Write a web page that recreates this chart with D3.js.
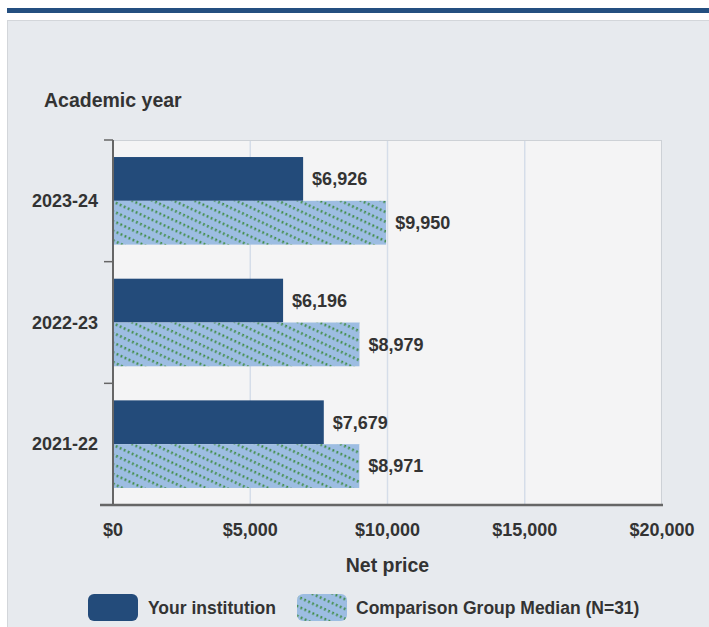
<!DOCTYPE html>
<html>
<head>
<meta charset="utf-8">
<script src="https://cdn.jsdelivr.net/npm/d3@7"></script>
<style>
  body { margin: 0; background: #fff; }
  text { font-family: "Liberation Sans", Arial, sans-serif; font-weight: bold; fill: #333; }
</style>
</head>
<body>
<div id="chart"></div>
<script>
// data
var years = ["2023-24", "2022-23", "2021-22"];
var yourInstitution = [6926, 6196, 7679];
var comparisonMedian = [9950, 8979, 8971];
var xTicks = [0, 5000, 10000, 15000, 20000];
var seriesNames = ["Your institution", "Comparison Group Median (N=31)"];

var w = 709, h = 627;
var plot = {left: 113, right: 662, top: 140, bottom: 505};
var darkBlue = "#234b7a";
var lightBlue = "#9dbde2";

var svg = d3.select("#chart").append("svg")
  .attr("width", w)
  .attr("height", h);

var defs = svg.append("defs");
var pat = defs.append("pattern")
  .attr("id", "hatch")
  .attr("patternUnits", "userSpaceOnUse")
  .attr("width", 4.4)
  .attr("height", 8.8)
  .attr("patternTransform", "rotate(25)");
pat.append("rect").attr("width", 4.4).attr("height", 8.8).attr("fill", lightBlue);
pat.append("rect").attr("x", 1.2).attr("y", 0).attr("width", 1.7).attr("height", 2.6).attr("fill", "#3f8c45");

// top rule + panel
svg.append("rect").attr("x", 7).attr("y", 8).attr("width", w - 7).attr("height", 5).attr("fill", "#244f80");
svg.append("rect").attr("x", 7.5).attr("y", 20.5).attr("width", w).attr("height", h)
  .attr("fill", "#e7eaee").attr("stroke", "#d3d6da");

var x = d3.scaleLinear().domain([0, 20000]).range([plot.left, plot.right]);
var y = d3.scaleBand().domain(years).range([plot.top, plot.bottom]).paddingInner(0.28).paddingOuter(0.14);
var sub = d3.scaleBand().domain(["you", "comp"]).range([0, y.bandwidth()]);

// plot area
svg.append("rect")
  .attr("x", plot.left).attr("y", plot.top + 0.5)
  .attr("width", plot.right - plot.left - 0.5).attr("height", plot.bottom - plot.top)
  .attr("fill", "#f4f4f5").attr("stroke", "#cdd1d6");

// gridlines
svg.append("g").selectAll("line")
  .data(xTicks.slice(1, -1))
  .enter().append("line")
  .attr("x1", function(d){ return x(d); })
  .attr("x2", function(d){ return x(d); })
  .attr("y1", plot.top + 1).attr("y2", plot.bottom)
  .attr("stroke", "#d5dde9").attr("stroke-width", 1.5);

// bars
var groups = svg.append("g").selectAll("g")
  .data(years)
  .enter().append("g")
  .attr("transform", function(d){ return "translate(0," + y(d) + ")"; });

groups.append("rect")
  .attr("x", x(0))
  .attr("y", sub("you"))
  .attr("height", sub.bandwidth())
  .attr("width", function(d, i){ return x(yourInstitution[i]) - x(0); })
  .attr("fill", darkBlue);

groups.append("rect")
  .attr("x", x(0))
  .attr("y", sub("comp"))
  .attr("height", sub.bandwidth())
  .attr("width", function(d, i){ return x(comparisonMedian[i]) - x(0); })
  .attr("fill", "url(#hatch)");

var fmt = d3.format("$,");
groups.append("text")
  .attr("x", function(d, i){ return x(yourInstitution[i]) + 9; })
  .attr("y", sub("you") + sub.bandwidth() / 2)
  .attr("dy", "0.35em")
  .style("font-size", "18px")
  .text(function(d, i){ return fmt(yourInstitution[i]); });

groups.append("text")
  .attr("x", function(d, i){ return x(comparisonMedian[i]) + 9; })
  .attr("y", sub("comp") + sub.bandwidth() / 2)
  .attr("dy", "0.35em")
  .style("font-size", "18px")
  .text(function(d, i){ return fmt(comparisonMedian[i]); });

// y axis
var yAxis = svg.append("g")
  .attr("transform", "translate(" + plot.left + ",0)");
yAxis.append("line")
  .attr("x1", 0).attr("x2", 0).attr("y1", plot.top).attr("y2", plot.bottom)
  .attr("stroke", "#666").attr("stroke-width", 2);
var yTickPos = [plot.top].concat(years.map(function(d){ return y(d) + y.bandwidth() + y.step() * y.paddingInner() / 2; }));
yTickPos[yTickPos.length - 1] = plot.bottom;
yAxis.selectAll(".tk").data(yTickPos).enter().append("line")
  .attr("x1", -9).attr("x2", 0)
  .attr("y1", function(d){ return d; }).attr("y2", function(d){ return d; })
  .attr("stroke", "#666").attr("stroke-width", 1.5);
yAxis.selectAll(".lbl").data(years).enter().append("text")
  .attr("x", -15)
  .attr("y", function(d){ return y(d) + y.bandwidth() / 2; })
  .attr("dy", "0.35em")
  .attr("text-anchor", "end")
  .style("font-size", "18px")
  .text(function(d){ return d; });

// x axis
var xAxis = svg.append("g");
xAxis.append("line")
  .attr("x1", 100).attr("x2", plot.right + 1).attr("y1", plot.bottom).attr("y2", plot.bottom)
  .attr("stroke", "#666").attr("stroke-width", 2.5);
xAxis.selectAll("text").data(xTicks).enter().append("text")
  .attr("x", function(d){ return x(d); })
  .attr("y", 536)
  .attr("text-anchor", "middle")
  .style("font-size", "18px")
  .text(function(d){ return fmt(d); });

svg.append("text")
  .attr("x", (plot.left + plot.right) / 2).attr("y", 572)
  .attr("text-anchor", "middle")
  .style("font-size", "19.5px")
  .text("Net price");

svg.append("text")
  .attr("x", 44).attr("y", 107)
  .style("font-size", "19.5px")
  .text("Academic year");

// legend
var legend = svg.append("g");
legend.append("rect").attr("x", 88).attr("y", 594).attr("width", 50).attr("height", 27).attr("rx", 6)
  .attr("fill", darkBlue);
legend.append("text").attr("x", 148).attr("y", 607.5).attr("dy", "0.35em").style("font-size", "17.5px")
  .text(seriesNames[0]);
legend.append("rect").attr("x", 297).attr("y", 594).attr("width", 50).attr("height", 27).attr("rx", 6)
  .attr("fill", "url(#hatch)");
legend.append("text").attr("x", 356).attr("y", 607.5).attr("dy", "0.35em").style("font-size", "17.5px")
  .text(seriesNames[1]);
</script>
</body>
</html>
